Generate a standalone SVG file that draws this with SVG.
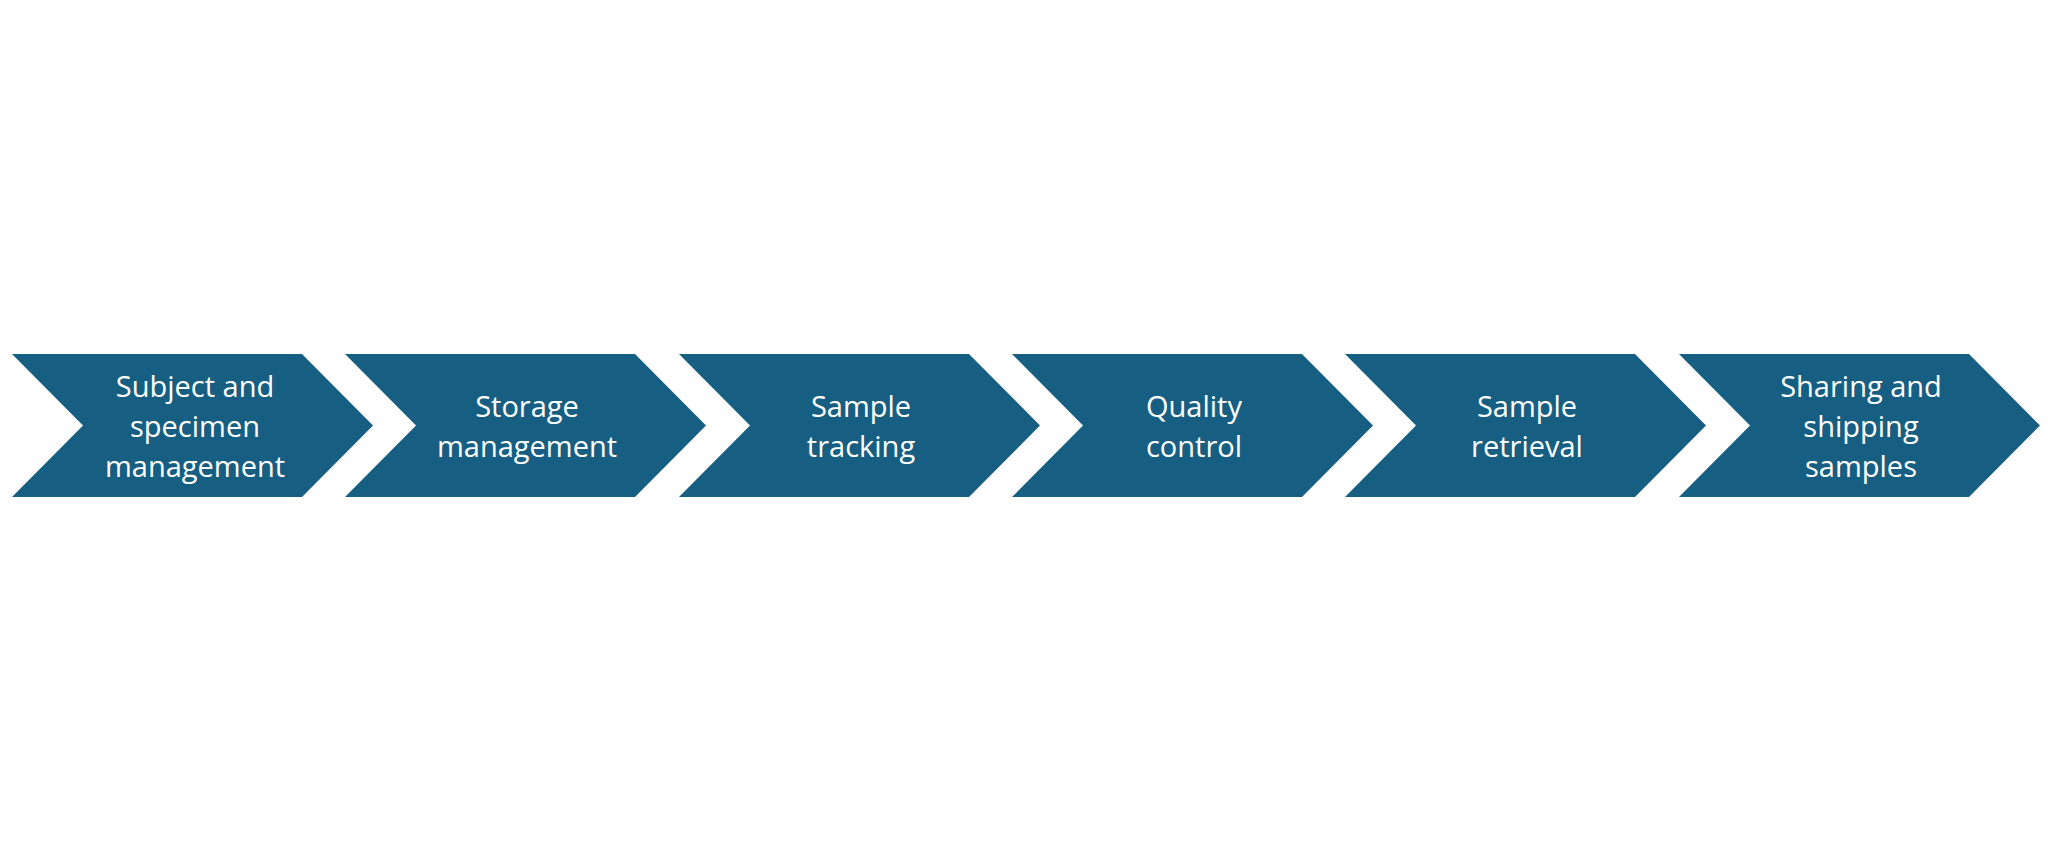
<svg xmlns="http://www.w3.org/2000/svg" width="2048" height="850" viewBox="0 0 2048 850">
<style>
.c{fill:#175F82}
.t{font-family:"Open Sans","Liberation Sans",sans-serif;font-size:29px;fill:#fff;text-anchor:middle}
</style>
<defs><path id="ch" d="M0,354 H290 L361,425.5 L290,497 H0 L71,425.5 Z"/></defs>
<rect width="2048" height="850" fill="#fff"/>
<g id="n1"><use href="#ch" class="c" x="12"/><text class="t" x="195"><tspan x="195" y="397">Subject and</tspan><tspan x="195" y="437">specimen</tspan><tspan x="195" y="477">management</tspan></text></g>
<g id="n2"><use href="#ch" class="c" x="345"/><text class="t"><tspan x="527" y="417">Storage</tspan><tspan x="527" y="457">management</tspan></text></g>
<g id="n3"><use href="#ch" class="c" x="679"/><text class="t"><tspan x="861" y="417">Sample</tspan><tspan x="861" y="457">tracking</tspan></text></g>
<g id="n4"><use href="#ch" class="c" x="1012"/><text class="t"><tspan x="1194" y="417">Quality</tspan><tspan x="1194" y="457">control</tspan></text></g>
<g id="n5"><use href="#ch" class="c" x="1345"/><text class="t"><tspan x="1527" y="417">Sample</tspan><tspan x="1527" y="457">retrieval</tspan></text></g>
<g id="n6"><use href="#ch" class="c" x="1679"/><text class="t"><tspan x="1861" y="397">Sharing and</tspan><tspan x="1861" y="437">shipping</tspan><tspan x="1861" y="477">samples</tspan></text></g>
<g id="connectors"/>
</svg>
